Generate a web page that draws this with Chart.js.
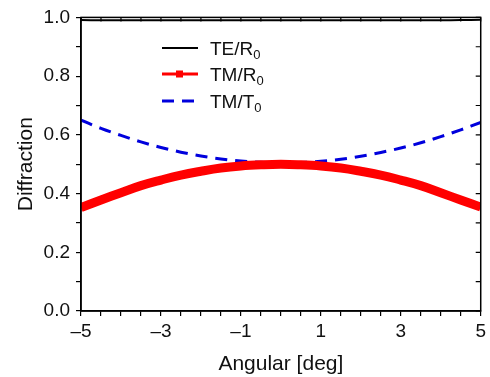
<!DOCTYPE html>
<html>
<head>
<meta charset="utf-8">
<script src="https://cdn.jsdelivr.net/npm/chart.js@4.4.0/dist/chart.umd.min.js"></script>
<style>
  html, body { margin: 0; padding: 0; background: #fff; }
  #wrap { width: 490px; height: 377px; position: relative; }
</style>
</head>
<body>
<div id="wrap"><canvas id="chart"></canvas></div>
<script>
// data
const angles = [-5, -4.5, -4, -3.5, -3, -2.5, -2, -1.5, -1, -0.5, 0, 0.5, 1, 1.5, 2, 2.5, 3, 3.5, 4, 4.5, 5];
const teR0 = [0.991, 0.990, 0.990, 0.990, 0.990, 0.990, 0.990, 0.990, 0.990, 0.990, 0.990, 0.990, 0.990, 0.990, 0.990, 0.990, 0.990, 0.990, 0.990, 0.991, 0.992];
const tmR0 = [0.352, 0.378, 0.403, 0.427, 0.446, 0.463, 0.476, 0.487, 0.494, 0.498, 0.5, 0.498, 0.494, 0.487, 0.476, 0.463, 0.446, 0.427, 0.403, 0.378, 0.354];
const tmT0 = [0.650, 0.622, 0.598, 0.576, 0.557, 0.541, 0.528, 0.518, 0.511, 0.507, 0.505, 0.506, 0.510, 0.517, 0.527, 0.540, 0.555, 0.573, 0.594, 0.617, 0.642];
const xLabelTicks = [-5, -3, -1, 1, 3, 5];
const legendNames = [['TE/R', '0'], ['TM/R', '0'], ['TM/T', '0']];

const FONT = 'Liberation Sans, Arial, sans-serif';

function pts(ys) {
  return angles.map((a, i) => ({ x: a, y: ys[i] }));
}

// frame, inward ticks on top/right, and the legend inside the plot
const framePlugin = {
  id: 'frame',
  afterDatasetsDraw(chart) {
    const { ctx, chartArea: a, scales } = chart;
    ctx.save();
    ctx.strokeStyle = '#000';
    ctx.lineWidth = 1.5;
    ctx.strokeRect(a.left, a.top, a.right - a.left, a.bottom - a.top);

    ctx.lineWidth = 1.2;
    ctx.beginPath();
    scales.x.ticks.forEach((t) => {
      const px = scales.x.getPixelForValue(t.value);
      ctx.moveTo(px, a.top);
      ctx.lineTo(px, a.top + 4);
    });
    scales.y.ticks.forEach((t) => {
      const py = scales.y.getPixelForValue(t.value);
      ctx.moveTo(a.right, py);
      ctx.lineTo(a.right - 5, py);
    });
    ctx.stroke();

    // legend
    const rows = [48, 74, 101];
    chart.data.datasets.forEach((ds, i) => {
      const y = rows[i];
      ctx.strokeStyle = ds.borderColor;
      ctx.lineWidth = i === 0 ? 2 : 3;
      ctx.setLineDash(i === 2 ? [12, 8] : []);
      ctx.beginPath();
      ctx.moveTo(162, y);
      ctx.lineTo(198, y);
      ctx.stroke();
      ctx.setLineDash([]);
      if (i === 1) {
        ctx.fillStyle = ds.borderColor;
        ctx.fillRect(176, y - 3.5, 7, 7);
      }
      ctx.fillStyle = '#111';
      ctx.textBaseline = 'alphabetic';
      ctx.font = '19px ' + FONT;
      ctx.fillText(legendNames[i][0], 210, y + 7);
      const w = ctx.measureText(legendNames[i][0]).width;
      ctx.font = '13px ' + FONT;
      ctx.fillText(legendNames[i][1], 210 + w, y + 11);
    });
    ctx.restore();
  },
};

new Chart(document.getElementById('chart'), {
  type: 'line',
  data: {
    datasets: [
      {
        label: 'TE/R0',
        data: pts(teR0),
        borderColor: '#000000',
        borderWidth: 2,
        pointRadius: 0,
        tension: 0.4,
      },
      {
        label: 'TM/R0',
        data: pts(tmR0),
        borderColor: '#ff0000',
        borderWidth: 9,
        pointRadius: 0,
        tension: 0.4,
      },
      {
        label: 'TM/T0',
        data: pts(tmT0),
        borderColor: '#0000dd',
        borderWidth: 3,
        borderDash: [12, 8],
        pointRadius: 0,
        tension: 0.4,
      },
    ],
  },
  options: {
    responsive: true,
    maintainAspectRatio: false,
    animation: false,
    layout: { padding: { left: 0, top: 13, right: 6, bottom: 0 } },
    plugins: {
      legend: { display: false },
      tooltip: { enabled: false },
    },
    scales: {
      x: {
        type: 'linear',
        min: -5,
        max: 5,
        afterFit: (s) => { s.height = 66; },
        afterBuildTicks: (s) => {
          s.ticks = angles.map((v) => ({ value: v }));
        },
        ticks: {
          autoSkip: false,
          maxRotation: 0,
          padding: 4,
          color: '#111',
          font: { family: FONT, size: 19 },
          callback: (v) => (xLabelTicks.includes(v) ? (v < 0 ? '\u2013' + Math.abs(v) : String(v)) : ''),
        },
        grid: { drawOnChartArea: false, tickLength: 5, color: '#000', lineWidth: 1.2 },
        border: { display: true, color: '#000', width: 1.5 },
        title: {
          display: true,
          text: 'Angular [deg]',
          color: '#111',
          font: { family: FONT, size: 21 },
          padding: { top: 0, bottom: 0 },
        },
      },
      y: {
        min: 0,
        max: 1,
        afterFit: (s) => { s.width = 81; },
        ticks: {
          stepSize: 0.1,
          padding: 6,
          color: '#111',
          font: { family: FONT, size: 19 },
          callback: (v) => {
            const r = Math.round(v * 10);
            return r % 2 === 0 ? (r / 10).toFixed(1) : '';
          },
        },
        grid: { drawOnChartArea: false, tickLength: 5, color: '#000', lineWidth: 1.2 },
        border: { display: true, color: '#000', width: 1.5 },
        title: {
          display: true,
          text: 'Diffraction',
          color: '#111',
          font: { family: FONT, size: 21 },
          padding: { top: 14, bottom: 0 },
        },
      },
    },
  },
  plugins: [framePlugin],
});
</script>
</body>
</html>
